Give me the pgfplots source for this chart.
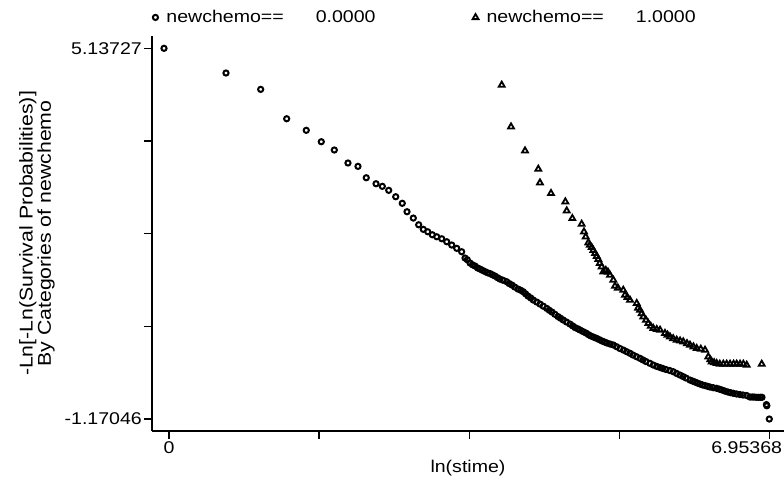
\documentclass[border=0pt]{standalone}
\usepackage{fontspec}
\setmainfont{Liberation Sans}[FakeStretch=1.15]
\usepackage{pgfplots}
\pgfplotsset{compat=1.18}
\usepackage{pgfplotstable}

\pgfplotstableread{
x y
-0.058 5.13727
0.660 4.717
1.062 4.439
1.363 3.939
1.590 3.742
1.764 3.548
1.915 3.407
2.073 3.186
2.189 3.129
2.285 2.935
2.398 2.833
2.471 2.789
2.545 2.721
2.626 2.612
2.702 2.500
2.757 2.357
2.830 2.249
2.892 2.135
2.946 2.057
2.997 2.016
3.050 1.965
3.101 1.931
3.159 1.897
3.217 1.846
3.275 1.790
3.333 1.734
3.390 1.676
3.429 1.569
3.455 1.540
3.487 1.484
3.515 1.455
3.545 1.433
3.575 1.400
3.602 1.382
3.630 1.360
3.660 1.339
3.690 1.318
3.718 1.305
3.745 1.285
3.776 1.263
3.805 1.235
3.834 1.211
3.870 1.190
3.912 1.166
3.940 1.135
3.973 1.109
4.005 1.075
4.043 1.041
4.075 1.020
4.104 0.995
4.130 0.960
4.158 0.922
4.190 0.890
4.220 0.854
4.260 0.820
4.297 0.786
4.335 0.750
4.375 0.713
4.405 0.680
4.436 0.650
4.470 0.612
4.506 0.573
4.535 0.545
4.567 0.514
4.605 0.480
4.645 0.446
4.675 0.415
4.703 0.386
4.735 0.365
4.761 0.344
4.795 0.318
4.830 0.293
4.860 0.265
4.888 0.242
4.920 0.222
4.954 0.202
4.985 0.180
5.016 0.157
5.045 0.140
5.073 0.123
5.110 0.105
5.147 0.089
5.185 0.060
5.224 0.029
5.265 0.002
5.302 -0.025
5.340 -0.052
5.375 -0.082
5.415 -0.110
5.456 -0.138
5.490 -0.165
5.525 -0.192
5.570 -0.222
5.610 -0.252
5.650 -0.275
5.688 -0.294
5.720 -0.310
5.757 -0.328
5.800 -0.345
5.842 -0.366
5.880 -0.395
5.919 -0.422
5.955 -0.448
5.989 -0.473
6.035 -0.507
6.065 -0.525
6.093 -0.541
6.120 -0.558
6.151 -0.575
6.180 -0.590
6.209 -0.601
6.240 -0.615
6.267 -0.626
6.305 -0.638
6.344 -0.648
6.375 -0.662
6.406 -0.677
6.440 -0.695
6.475 -0.711
6.505 -0.722
6.537 -0.733
6.575 -0.744
6.614 -0.754
6.650 -0.762
6.692 -0.771
6.730 -0.796
6.755 -0.796
6.776 -0.796
6.800 -0.800
6.826 -0.801
6.850 -0.801
6.869 -0.801
6.920 -0.925
6.925 -0.945
6.95368 -1.17046
}\groupzero

\pgfplotstableread{
x y
3.854 4.513
3.962 3.803
4.124 3.395
4.278 3.083
4.297 2.850
4.425 2.670
4.591 2.527
4.607 2.374
4.672 2.244
4.780 2.147
4.807 2.016
4.827 1.931
4.857 1.829
4.875 1.790
4.896 1.751
4.915 1.700
4.935 1.649
4.955 1.600
4.973 1.547
4.990 1.480
5.012 1.421
5.031 1.336
5.060 1.360
5.085 1.331
5.108 1.279
5.147 1.195
5.166 1.092
5.200 1.060
5.262 1.024
5.282 0.939
5.310 0.900
5.340 0.854
5.418 0.798
5.433 0.718
5.456 0.684
5.475 0.625
5.494 0.570
5.525 0.514
5.552 0.458
5.580 0.410
5.610 0.373
5.650 0.355
5.688 0.344
5.745 0.288
5.775 0.260
5.803 0.230
5.840 0.200
5.881 0.174
5.920 0.160
5.957 0.145
6.000 0.115
6.035 0.089
6.075 0.060
6.113 0.032
6.160 0.020
6.209 0.003
6.247 -0.111
6.270 -0.160
6.286 -0.196
6.315 -0.210
6.344 -0.223
6.380 -0.235
6.421 -0.235
6.460 -0.235
6.499 -0.235
6.540 -0.235
6.576 -0.235
6.615 -0.235
6.653 -0.235
6.692 -0.252
6.866 -0.235
}\groupone

\begin{document}
\fontsize{17}{20}\selectfont
\begin{tikzpicture}
\path[use as bounding box] (0,0) rectangle (784pt,481pt);
\begin{axis}[
  at={(152pt,50pt)}, anchor=south west,
  width=632pt, height=395pt, scale only axis,
  xmin=-0.197, xmax=7.124, ymin=-1.374, ymax=5.347,
  clip=false,
  axis lines=left,
  axis line style={-, line width=1.4pt, black},
  xtick={0,1.73842,3.47684,5.21526},
  xticklabels={0,,,},
  extra x ticks={6.95368},
  extra x tick labels={6.95368},
  extra x tick style={xticklabel style={anchor=north east, xshift=15pt}},
  ytick={-1.17046,0.40647,1.98341,3.56034,5.13727},
  yticklabels={-1.17046,,,,5.13727},
  tick align=outside,
  major tick length=8pt,
  tick style={line width=1.3pt, black},
  xticklabel style={inner sep=2pt},
  yticklabel style={inner sep=2pt},
  xlabel={ln(stime)},
  xlabel style={at={(axis description cs:0.5,-0.0937)}, anchor=center},
  ylabel={-Ln[-Ln(Survival Probabilities)]\\By Categories of newchemo},
  ylabel style={at={(axis description cs:-0.182,0.5)}, anchor=center,
    align=center, font=\fontsize{18.5}{15}\selectfont},
  legend columns=2,
  legend cell align=left,
  legend image code/.code={\path[draw=none] (0pt,0pt) -- (9pt,0pt);
    \draw[#1] plot coordinates {(0pt,0pt)};},
  legend style={draw=none, fill=none, inner sep=0pt,
    at={(axis description cs:0.001,1.047)}, anchor=west,
    /tikz/every even column/.append style={column sep=95pt}},
]
\addplot[only marks, mark=o, mark size=2.6pt, line width=2pt, black]
  table[x=x,y=y]{\groupzero};
\addlegendentry{newchemo==\hspace{32pt}0.0000}
\addplot[only marks, mark=triangle, mark size=3.4pt, line width=1.8pt, black]
  table[x=x,y=y]{\groupone};
\addlegendentry{newchemo==\hspace{32pt}1.0000}
\end{axis}
\end{tikzpicture}
\end{document}
